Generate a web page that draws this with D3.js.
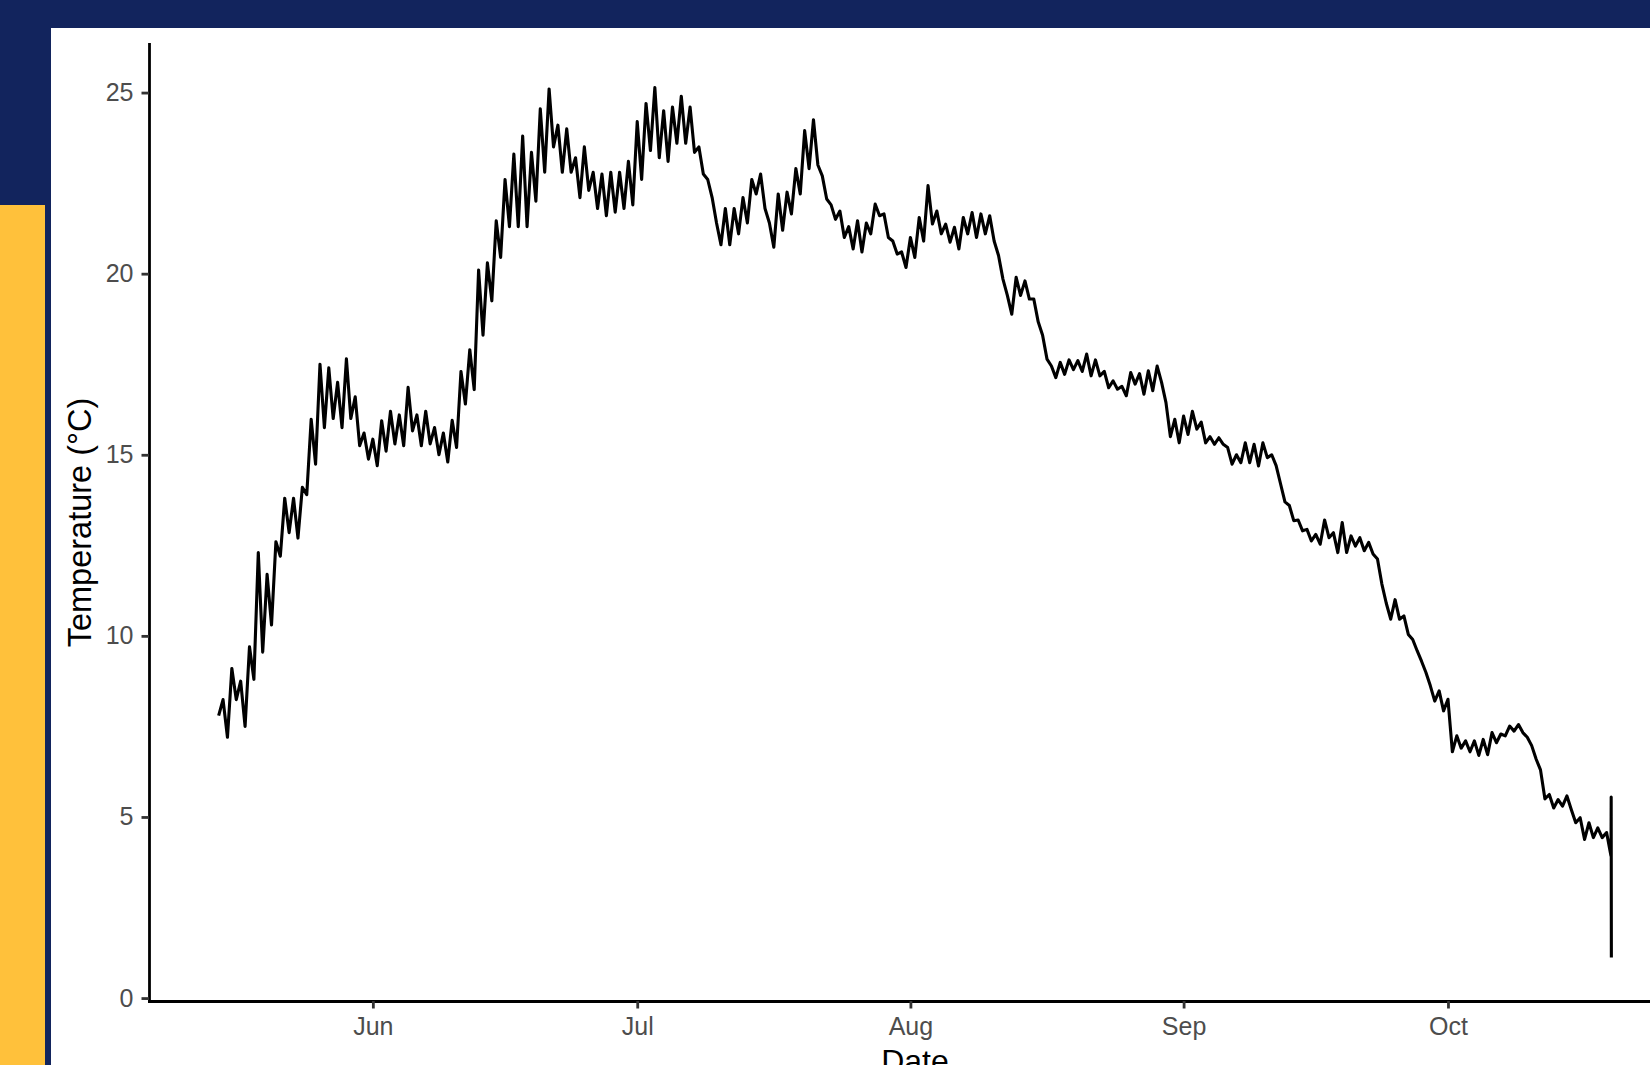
<!DOCTYPE html>
<html>
<head>
<meta charset="utf-8">
<script src="https://cdn.jsdelivr.net/npm/d3@7"></script>
<style>
html,body{margin:0;padding:0;background:#12245d;overflow:hidden;}
svg{display:block;}
</style>
</head>
<body>
<svg id="chart" width="1650" height="1065"></svg>
<script>
// ---- data: water temperature every 12 hours, starting 14 May 12:00 ----
const startTime = "2021-05-14T12:00:00Z";
const stepHours = 12;
const tempMay = [7.8, 8.24, 7.2, 9.1, 8.24, 8.75, 7.5, 9.7, 8.8, 12.3, 9.55, 11.7, 10.3, 12.6, 12.2, 13.8, 12.85, 13.8, 12.7, 14.1, 13.9, 15.98, 14.74, 17.5, 15.75, 17.4, 16.0, 17.0, 15.75, 17.65, 16.0, 16.6, 15.25, 15.6, 14.88];
const tempJun = [15.43, 14.7, 15.94, 15.1, 16.2, 15.3, 16.1, 15.25, 16.86, 15.66, 16.1, 15.25, 16.2, 15.3, 15.75, 15.0, 15.6, 14.8, 15.95, 15.2, 17.3, 16.4, 17.9, 16.8, 20.1, 18.3, 20.3, 19.25, 21.46, 20.45, 22.6, 21.3, 23.3, 21.3, 23.8, 21.3, 23.35, 22.0, 24.55, 22.8, 25.1, 23.5, 24.1, 22.8, 24.0, 22.8, 23.2, 22.1, 23.5, 22.3, 22.8, 21.8, 22.75, 21.6, 22.8, 21.7, 22.8, 21.8, 23.1, 21.9];
const tempJul = [24.2, 22.6, 24.7, 23.4, 25.14, 23.2, 24.5, 23.1, 24.6, 23.6, 24.9, 23.6, 24.6, 23.35, 23.5, 22.75, 22.6, 22.1, 21.4, 20.8, 21.8, 20.8, 21.8, 21.1, 22.1, 21.4, 22.6, 22.2, 22.75, 21.8, 21.4, 20.73, 22.2, 21.2, 22.25, 21.65, 22.9, 22.2, 23.95, 22.9, 24.25, 23.0, 22.7, 22.06, 21.9, 21.5, 21.73, 21.0, 21.3, 20.68, 21.46, 20.6, 21.4, 21.1, 21.92, 21.6, 21.65, 21.0, 20.9, 20.54, 20.6, 20.17];
const tempAug = [21.0, 20.45, 21.55, 20.9, 22.43, 21.37, 21.73, 21.1, 21.37, 20.87, 21.28, 20.68, 21.55, 21.1, 21.69, 21.0, 21.65, 21.1, 21.6, 20.9, 20.5, 19.85, 19.4, 18.88, 19.9, 19.4, 19.8, 19.3, 19.3, 18.67, 18.3, 17.64, 17.45, 17.13, 17.55, 17.22, 17.62, 17.35, 17.6, 17.3, 17.78, 17.18, 17.62, 17.18, 17.3, 16.85, 17.04, 16.81, 16.89, 16.63, 17.27, 16.95, 17.24, 16.67, 17.32, 16.77, 17.45, 17.0, 16.44, 15.5, 15.98, 15.33];
const tempSep = [16.07, 15.56, 16.2, 15.71, 15.9, 15.33, 15.5, 15.29, 15.47, 15.29, 15.2, 14.74, 15.0, 14.78, 15.33, 14.78, 15.29, 14.69, 15.33, 14.92, 15.0, 14.7, 14.2, 13.7, 13.6, 13.18, 13.2, 12.9, 12.94, 12.62, 12.8, 12.53, 13.2, 12.71, 12.85, 12.3, 13.13, 12.3, 12.76, 12.48, 12.71, 12.35, 12.58, 12.26, 12.12, 11.43, 10.9, 10.46, 11.0, 10.46, 10.55, 10.04, 9.9, 9.59, 9.3, 8.99, 8.62, 8.2, 8.48, 7.93];
const tempOct = [8.25, 6.8, 7.24, 6.9, 7.1, 6.8, 7.1, 6.7, 7.14, 6.72, 7.33, 7.05, 7.29, 7.24, 7.51, 7.37, 7.55, 7.33, 7.2, 6.97, 6.6, 6.3, 5.5, 5.62, 5.25, 5.48, 5.3, 5.58, 5.2, 4.84, 4.98, 4.38, 4.84, 4.43, 4.7, 4.43, 4.57, 3.92];
// logger removed from the water at the end of the record
const tailTimes = ["2021-10-19T12:30:00Z", "2021-10-19T13:00:00Z"];
const tailTemps = [5.55, 1.12];

const yTickValues = [0, 5, 10, 15, 20, 25];
const xTickDates = ["2021-06-01T00:00:00Z", "2021-07-01T00:00:00Z", "2021-08-01T00:00:00Z", "2021-09-01T00:00:00Z", "2021-10-01T00:00:00Z"];
const xTickLabels = ["Jun", "Jul", "Aug", "Sep", "Oct"];
const xTitle = "Date";
const yTitle = "Temperature (°C)";

// ---- build series ----
const t0 = new Date(startTime).getTime();
const allTemps = [].concat(tempMay, tempJun, tempJul, tempAug, tempSep, tempOct);
const series = allTemps.map((v, i) => ({ t: new Date(t0 + i * stepHours * 3600e3), v }));
tailTimes.forEach((s, i) => series.push({ t: new Date(s), v: tailTemps[i] }));

// ---- layout ----
const W = 1650, H = 1065;
const panel = { left: 149, top: 44, right: 1681, bottom: 1001 };
const svg = d3.select("#chart");

svg.append("rect").attr("x", 0).attr("y", 0).attr("width", W).attr("height", H).attr("fill", "#12245d");
svg.append("rect").attr("x", 0).attr("y", 205).attr("width", 45).attr("height", H - 205).attr("fill", "#ffc13b");
svg.append("rect").attr("x", 51).attr("y", 28).attr("width", W - 51).attr("height", H - 28).attr("fill", "#ffffff");

// ggplot-style 5% expansion
const tExt = d3.extent(series, d => d.t.getTime());
const tPad = (tExt[1] - tExt[0]) * 0.05;
const vExt = d3.extent(series, d => d.v);
const vPad = (vExt[1] - vExt[0]) * 0.05;

const x = d3.scaleUtc()
  .domain([new Date(tExt[0] - tPad), new Date(tExt[1] + tPad)])
  .range([panel.left, panel.right]);
const y = d3.scaleLinear()
  .domain([vExt[0] - vPad, vExt[1] + vPad])
  .range([panel.bottom, panel.top]);

const font = "'Liberation Sans', Arial, Helvetica, sans-serif";

// line
const line = d3.line().x(d => x(d.t)).y(d => y(d.v));
svg.append("path")
  .datum(series)
  .attr("d", line)
  .attr("fill", "none")
  .attr("stroke", "#000")
  .attr("stroke-width", 3.1)
  .attr("stroke-linejoin", "round");

// y axis
const yAxis = svg.append("g")
  .attr("transform", `translate(${panel.left},0)`)
  .call(d3.axisLeft(y).tickValues(yTickValues).tickSizeInner(7.5).tickSizeOuter(0).tickPadding(8));
// x axis
const xTickObjs = xTickDates.map(s => new Date(s));
const xAxis = svg.append("g")
  .attr("transform", `translate(0,${panel.bottom})`)
  .call(d3.axisBottom(x).tickValues(xTickObjs)
    .tickFormat((d, i) => xTickLabels[i])
    .tickSizeInner(7.5).tickSizeOuter(0).tickPadding(9));

[yAxis, xAxis].forEach(g => {
  g.select(".domain").attr("stroke", "#000").attr("stroke-width", 2.8).attr("stroke-linecap", "square");
  g.selectAll(".tick line").attr("stroke", "#333").attr("stroke-width", 2.8);
  g.selectAll(".tick text").attr("fill", "#4d4d4d").style("font-family", font).style("font-size", "25px");
});

// titles
svg.append("text")
  .attr("transform", `translate(91,${(panel.top + panel.bottom) / 2}) rotate(-90)`)
  .attr("text-anchor", "middle")
  .style("font-family", font).style("font-size", "32.5px").attr("fill", "#000")
  .text(yTitle);
svg.append("text")
  .attr("x", (panel.left + panel.right) / 2)
  .attr("y", 1072)
  .attr("text-anchor", "middle")
  .style("font-family", font).style("font-size", "32px").attr("fill", "#000")
  .text(xTitle);
</script>
</body>
</html>
